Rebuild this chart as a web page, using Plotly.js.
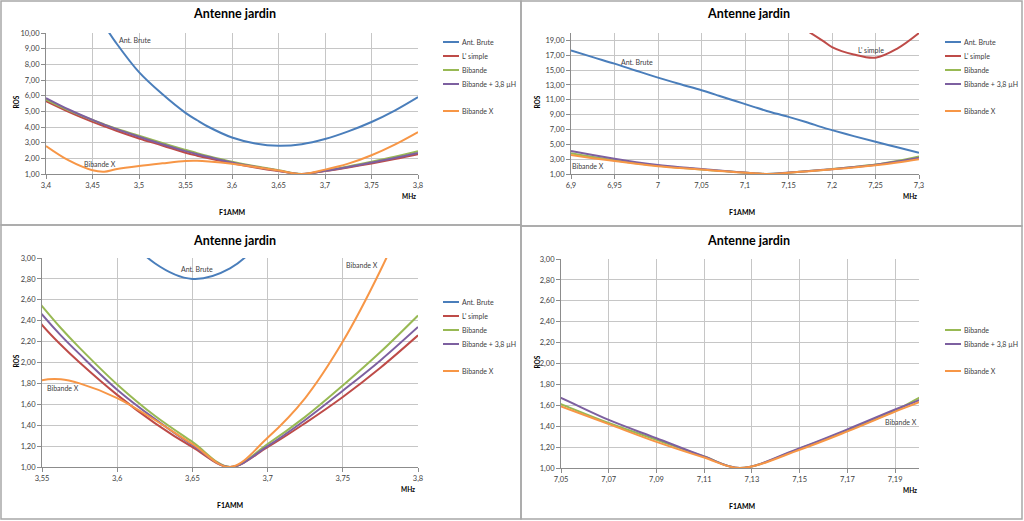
<!DOCTYPE html>
<html><head><meta charset="utf-8">
<script src="https://cdn.plot.ly/plotly-3.0.1.min.js"></script>
<style>html,body{margin:0;padding:0;background:#fff}#chart{width:1024px;height:521px}</style>
</head><body><div id="chart"></div>
<script>
// ---- data: 80 m band (MHz) ----
const freq80   = [3.4, 3.425, 3.45, 3.4625, 3.475, 3.5, 3.525, 3.55, 3.5625, 3.575, 3.6, 3.625, 3.65, 3.675, 3.7, 3.725, 3.75, 3.775, 3.8];
const brute80  = [16.5, 14.0, 11.6, 10.5, 9.4, 7.5, 6.1, 4.9, 4.43, 4.0, 3.33, 2.95, 2.80, 2.90, 3.23, 3.72, 4.32, 5.05, 5.91];
const simple80 = [5.65, 4.95, 4.33, 4.05, 3.78, 3.27, 2.82, 2.36, 2.17, 2.0, 1.69, 1.42, 1.19, 1.0, 1.19, 1.42, 1.67, 1.95, 2.26];
const bib80    = [5.75, 5.05, 4.45, 4.17, 3.9, 3.45, 2.98, 2.54, 2.33, 2.14, 1.79, 1.49, 1.24, 1.0, 1.22, 1.48, 1.78, 2.1, 2.45];
const bib38_80 = [5.85, 5.1, 4.45, 4.15, 3.88, 3.38, 2.9, 2.46, 2.26, 2.08, 1.74, 1.46, 1.21, 1.0, 1.2, 1.45, 1.73, 2.02, 2.34];
const bibX80   = [2.79, 1.85, 1.24, 1.15, 1.3, 1.51, 1.68, 1.83, 1.84, 1.8, 1.66, 1.45, 1.22, 1.0, 1.28, 1.66, 2.2, 2.88, 3.68];

// ---- data: 40 m band (MHz) ----
const freq40   = [6.9, 6.925, 6.95, 6.975, 7.0, 7.025, 7.05, 7.07, 7.09, 7.11, 7.125, 7.15, 7.17, 7.19, 7.2, 7.225, 7.25, 7.275, 7.3];
const brute40  = [17.66, 16.75, 15.87, 14.92, 13.99, 13.12, 12.28, 11.55, 10.8, 10.05, 9.5, 8.7, 8.0, 7.25, 6.91, 6.1, 5.34, 4.6, 3.86];
const simple40 = [null, null, null, null, null, null, null, null, null, null, 23.3, 21.8, 20.4, 18.9, 18.1, 17.1, 16.67, 17.9, 20.0];
const bib40    = [3.8, 3.3, 2.85, 2.45, 2.12, 1.84, 1.61, 1.43, 1.27, 1.11, 1.0, 1.185, 1.36, 1.55, 1.67, 1.95, 2.27, 2.75, 3.35];
const bib38_40 = [4.09, 3.55, 3.05, 2.6, 2.22, 1.92, 1.67, 1.46, 1.285, 1.11, 1.0, 1.19, 1.37, 1.56, 1.65, 1.93, 2.25, 2.68, 3.2];
const bibX40   = [3.55, 3.13, 2.75, 2.38, 2.05, 1.8, 1.59, 1.42, 1.25, 1.1, 1.0, 1.175, 1.35, 1.54, 1.63, 1.88, 2.18, 2.55, 3.0];

const seriesNames  = ["Ant. Brute", "L' simple", "Bibande", "Bibande + 3,8 µH", "Bibande X"];
const seriesColors = ["#4A7EBB", "#BE4B48", "#98B954", "#7D60A0", "#F79646"];
const chartTitle = "Antenne jardin";
const yTitle = "ROS", xUnit = "MHz", author = "F1AMM";

// data labels placed on the curves: [panel, x, y, text]
const pointLabels = [
  [1, 3.4957, 9.55, "Ant. Brute"], [1, 3.458, 1.61, "Bibande X"],
  [2, 6.9755, 16.09, "Ant. Brute"], [2, 7.245, 17.75, "L' simple"], [2, 6.919, 2.12, "Bibande X"],
  [3, 3.6529, 2.895, "Ant. Brute"], [3, 3.7626, 2.933, "Bibande X"], [3, 3.5638, 1.759, "Bibande X"],
  [4, 7.1924, 1.443, "Bibande X"]
];

// ---- layout helpers ----
const W = 1024, H = 521;
const px = x => x / W, py = y => 1 - y / H;
const FONT = "Lato, 'Open Sans', sans-serif";
const tickFont = {family: FONT, size: 7.5, color: '#404040'};
const smallFont = {family: FONT, size: 7, color: '#404040'};

const panels = [
  {id: 1, x0: 46, x1: 418, yTop: 33, yBot: 174, xr: [3.4, 3.8], xt0: 3.4, xdt: 0.05, yr: [1, 10], yt0: 1, ydt: 1,
   f: freq80, s: [brute80, simple80, bib80, bib38_80, bibX80], show: [0,1,2,3,4], oy: 0, lx: 443, titleX: 234, rosX: 16, mhzX: 409, authX: 232},
  {id: 2, x0: 571, x1: 919, yTop: 33, yBot: 174, xr: [6.9, 7.3], xt0: 6.9, xdt: 0.05, yr: [1, 20], yt0: 1, ydt: 2,
   f: freq40, s: [brute40, simple40, bib40, bib38_40, bibX40], show: [0,1,2,3,4], oy: 0, lx: 945, titleX: 748, rosX: 537, mhzX: 910, authX: 742},
  {id: 3, x0: 42, x1: 418, yTop: 258, yBot: 467, xr: [3.55, 3.8], xt0: 3.55, xdt: 0.05, yr: [1, 3], yt0: 1, ydt: 0.2,
   f: freq80, s: [brute80, simple80, bib80, bib38_80, bibX80], show: [0,1,2,3,4], oy: 260, lx: 443, titleX: 234, rosX: 16, mhzX: 408, authX: 230},
  {id: 4, x0: 561, x1: 919, yTop: 259, yBot: 468, xr: [7.05, 7.2], xt0: 7.05, xdt: 0.02, yr: [1, 3], yt0: 1, ydt: 0.2,
   f: freq40, s: [brute40, simple40, bib40, bib38_40, bibX40], show: [2,3,4], oy: 260, lx: 945, titleX: 748, rosX: 537, mhzX: 910, authX: 742}
];
const legendSlotY = [42, 56, 70, 84, 111];

const traces = [];
const layout = {
  width: W, height: H, margin: {l: 0, r: 0, t: 0, b: 0},
  paper_bgcolor: '#ffffff', plot_bgcolor: '#ffffff',
  separators: ', ', showlegend: false,
  annotations: [], shapes: []
};

// panel frames
const frames = [[1, 1, 521, 225], [521, 1, 1022, 226], [1, 225, 521, 519], [521, 226, 1022, 519]];
frames.forEach(r => layout.shapes.push({type: 'rect', xref: 'paper', yref: 'paper',
  x0: px(r[0]), x1: px(r[2]), y0: py(r[1]), y1: py(r[3]), line: {color: '#a8a8a8', width: 1.5}}));

panels.forEach(p => {
  const sx = p.id === 1 ? '' : String(p.id);
  layout['xaxis' + sx] = {
    domain: [px(p.x0), px(p.x1)], range: p.xr, tick0: p.xt0, dtick: p.xdt, anchor: 'y' + sx,
    showgrid: true, gridcolor: '#c6c6c6', gridwidth: 1, zeroline: false,
    showline: true, linecolor: '#8c8c8c', linewidth: 1, ticks: 'outside', ticklen: 4, tickcolor: '#8c8c8c',
    tickfont: tickFont, fixedrange: true
  };
  layout['yaxis' + sx] = {
    domain: [py(p.yBot), py(p.yTop)], range: p.yr, tick0: p.yt0, dtick: p.ydt, anchor: 'x' + sx,
    tickformat: '.2f', showgrid: true, gridcolor: '#c6c6c6', gridwidth: 1, zeroline: false,
    showline: true, linecolor: '#8c8c8c', linewidth: 1, ticks: 'outside', ticklen: 4, tickcolor: '#8c8c8c',
    tickfont: tickFont, fixedrange: true
  };
  p.show.forEach(i => {
    traces.push({type: 'scatter', mode: 'lines', x: p.f, y: p.s[i], name: seriesNames[i],
      xaxis: 'x' + sx, yaxis: 'y' + sx, hoverinfo: 'skip',
      line: {color: seriesColors[i], width: 2, shape: 'spline', smoothing: 1}});
    // manual Excel-style legend entry
    const ly = legendSlotY[i] + p.oy;
    layout.shapes.push({type: 'line', xref: 'paper', yref: 'paper',
      x0: px(p.lx), x1: px(p.lx + 16), y0: py(ly), y1: py(ly), line: {color: seriesColors[i], width: 2}});
    layout.annotations.push({xref: 'paper', yref: 'paper', x: px(p.lx + 16.5), y: py(ly), xanchor: 'left', yanchor: 'middle',
      text: seriesNames[i], showarrow: false, font: smallFont});
  });
  // titles and axis labels
  layout.annotations.push({xref: 'paper', yref: 'paper', x: px(p.titleX), y: py(14 + (p.oy ? 227 : 0)),
    xanchor: 'center', yanchor: 'middle', text: '<b>' + chartTitle + '</b>', showarrow: false,
    font: {family: FONT, size: 12.5, color: '#000000'}});
  layout.annotations.push({xref: 'paper', yref: 'paper', x: px(p.rosX), y: py((p.yTop + p.yBot) / 2 - 1),
    xanchor: 'center', yanchor: 'middle', text: '<b>' + yTitle + '</b>', textangle: -90, showarrow: false,
    font: {family: FONT, size: 6.5, color: '#000000'}});
  layout.annotations.push({xref: 'paper', yref: 'paper', x: px(p.mhzX), y: py(p.yBot + 22),
    xanchor: 'center', yanchor: 'middle', text: '<b>' + xUnit + '</b>', showarrow: false,
    font: {family: FONT, size: 6.5, color: '#000000'}});
  layout.annotations.push({xref: 'paper', yref: 'paper', x: px(p.authX), y: py(p.yBot + 38),
    xanchor: 'center', yanchor: 'middle', text: '<b>' + author + '</b>', showarrow: false,
    font: {family: FONT, size: 7, color: '#000000'}});
});

pointLabels.forEach(l => {
  const sx = l[0] === 1 ? '' : String(l[0]);
  layout.annotations.push({xref: 'x' + sx, yref: 'y' + sx, x: l[1], y: l[2], text: l[3], showarrow: false,
    xanchor: 'center', yanchor: 'middle', font: smallFont});
});

Plotly.newPlot('chart', traces, layout, {staticPlot: true, displayModeBar: false});
</script>
</body></html>
